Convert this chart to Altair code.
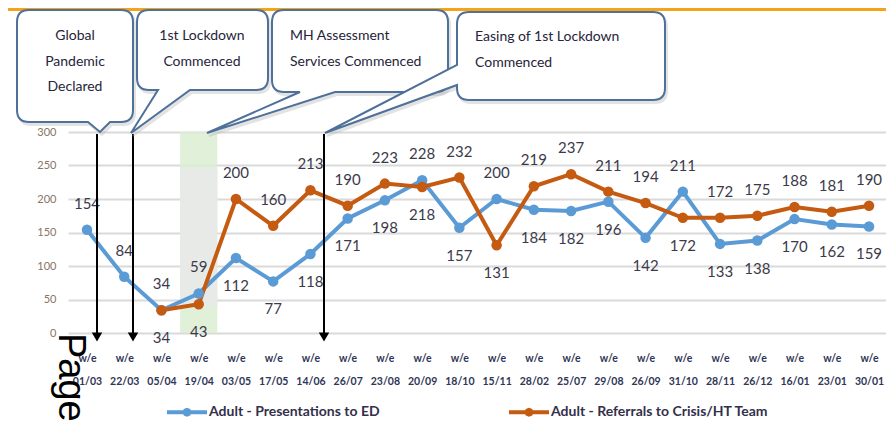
import json
import altair as alt
import pandas as pd

# ---------------- data ----------------
dates = ["01/03", "22/03", "05/04", "19/04", "03/05", "17/05", "14/06", "26/07",
         "23/08", "20/09", "18/10", "15/11", "28/02", "25/07", "29/08", "26/09",
         "31/10", "28/11", "26/12", "16/01", "23/01", "30/01"]
presentations_ed = [154, 84, 34, 59, 112, 77, 118, 171, 198, 228, 157, 200,
                    184, 182, 196, 142, 211, 133, 138, 170, 162, 159]
referrals_crisis = [None, None, 34, 43, 200, 160, 213, 190, 223, 218, 232, 131,
                    219, 237, 211, 194, 172, 172, 175, 188, 181, 190]
series_names = ["Adult - Presentations to ED", "Adult - Referrals to Crisis/HT Team"]
series_colors = ["#5B9BD5", "#C55A11"]
y_ticks = [0, 50, 100, 150, 200, 250, 300]
highlight_week = "19/04"

rows = []
for i, d in enumerate(dates):
    a, b = presentations_ed[i], referrals_crisis[i]
    rows.append({"idx": i, "series": series_names[0], "value": a,
                 "pos": "above" if (b is None or a >= b) else "below"})
    if b is not None:
        rows.append({"idx": i, "series": series_names[1], "value": b,
                     "pos": "above" if b > a else "below"})
df = pd.DataFrame(rows)

# ---------------- styling ----------------
LABEL_FONT = "Lato"
TEXT_COL = "#34304a"
OUTLINE = "#4e7099"

x_scale = alt.Scale(domain=[-0.51, 21.456], nice=False, zero=False)
y_scale = alt.Scale(domain=[0, 300], nice=False, zero=True)
x_axis = alt.Axis(values=list(range(len(dates))),
                  labelExpr="['w/e', " + json.dumps(dates) + "[datum.value]]",
                  grid=False, domain=False, ticks=False, title=None,
                  labelPadding=20, labelFont=LABEL_FONT, labelFontSize=10.5,
                  labelFontWeight="bold", labelColor="#2f3656",
                  labelLineHeight=23, labelFlush=False, labelOverlap=False,
                  labelBound=False, labelBaseline="top", zindex=0)
y_axis = alt.Axis(values=y_ticks, grid=True, gridColor="#dadada", gridWidth=2,
                  domain=False, ticks=False, title=None, labelPadding=12,
                  labelFont=LABEL_FONT, labelFontSize=11, labelColor="#877565",
                  labelOverlap=False, zindex=0)


def X(**kw):
    return alt.X(scale=x_scale, axis=x_axis, **kw)


def Y(**kw):
    return alt.Y(scale=y_scale, axis=y_axis, **kw)


color_scale = alt.Scale(domain=series_names, range=series_colors)

legend_symbol = ("M-1,0L1,0M0.12,0L0.085,0.085L0,0.12L-0.085,0.085L-0.12,0"
                 "L-0.085,-0.085L0,-0.12L0.085,-0.085Z")

base = alt.Chart(df)

lines = base.mark_line(strokeWidth=4).encode(
    x=X(field="idx", type="quantitative"),
    y=Y(field="value", type="quantitative"),
    color=alt.Color("series:N", scale=color_scale,
                    legend=alt.Legend(orient="none", legendX=97, legendY=258,
                                      direction="horizontal", title=None,
                                      symbolType=legend_symbol, symbolSize=1600,
                                      symbolStrokeWidth=4, labelFont=LABEL_FONT,
                                      labelFontSize=14, labelFontWeight="bold",
                                      labelColor=TEXT_COL, labelLimit=0,
                                      columnPadding=121, labelOffset=0, padding=0)),
)
points = base.mark_point(filled=True, size=110, opacity=1).encode(
    x=X(field="idx", type="quantitative"),
    y=Y(field="value", type="quantitative"),
    color=alt.Color("series:N", scale=color_scale, legend=None),
)
labels_above = base.transform_filter("datum.pos == 'above'").mark_text(
    dy=-26, fontSize=15, font=LABEL_FONT, color="#3b3a4a"
).encode(x=X(field="idx", type="quantitative"),
         y=Y(field="value", type="quantitative"), text="value:Q")
labels_below = base.transform_filter("datum.pos == 'below'").mark_text(
    dy=28, fontSize=15, font=LABEL_FONT, color="#3b3a4a"
).encode(x=X(field="idx", type="quantitative"),
         y=Y(field="value", type="quantitative"), text="value:Q")

hl = dates.index(highlight_week)
one = pd.DataFrame({"k": [0]})
band_green = alt.Chart(one).mark_rect(color="#dcedd2", opacity=0.85).encode(
    x=X(datum=hl - 0.5), x2=alt.X2(datum=hl + 0.5),
    y=Y(datum=0), y2=alt.Y2(datum=300))
band_gray = alt.Chart(one).mark_rect(color="#e9e9e9", opacity=0.85).encode(
    x=X(datum=hl - 0.5), x2=alt.X2(datum=hl + 0.5),
    y=Y(datum=40), y2=alt.Y2(datum=245))

# ---------------- annotations (pixel positions relative to plot origin) ----------------
OX, OY = 68, 132  # plot origin on page

top_bar = alt.Chart(one).mark_rect(color="#F5A31A").encode(
    x=alt.value(-60), x2=alt.value(818), y=alt.value(-124), y2=alt.value(-121))


def bubble(w, h, r, bottom_tail=None, left_tail=None):
    p = [f"M{r},0", f"H{w - r}", f"Q{w},0 {w},{r}", f"V{h - r}", f"Q{w},{h} {w - r},{h}"]
    if bottom_tail:
        br, (tx, ty), bl = bottom_tail
        p += [f"H{br}", f"L{tx},{ty}", f"L{bl},{h}"]
    p += [f"H{r}", f"Q0,{h} 0,{h - r}"]
    if left_tail:
        yl, (tx, ty), yh = left_tail
        p += [f"V{yl}", f"L{tx},{ty}", f"L0,{yh}"]
    p += [f"V{r}", f"Q0,0 {r},0", "Z"]
    return " ".join(p)


boxes = [
    (17, 10, bubble(116, 112, 12, bottom_tail=(93, (83, 122), 71))),
    (137, 10, bubble(131, 80, 12, bottom_tail=(53, (-6, 123), 21))),
    (272, 10, bubble(176, 82, 12, bottom_tail=(63, (-65, 123), 28))),
    (457, 12, bubble(208, 88, 12, left_tail=(73, (-132, 121), 53))),
]
box_layers = []
for bx, by, path in boxes:
    box_layers.append(alt.Chart(one).mark_point(
        shape=path, size=4, filled=True, fill="#b0b0b0", stroke="#b0b0b0",
        strokeWidth=2, opacity=0.35).encode(
        x=alt.value(bx - OX + 2), y=alt.value(by - OY + 3)))
for bx, by, path in boxes:
    box_layers.append(alt.Chart(one).mark_point(
        shape=path, size=4, filled=True, fill="white", stroke=OUTLINE,
        strokeWidth=2, opacity=1).encode(
        x=alt.value(bx - OX), y=alt.value(by - OY)))

callout_texts = [
    ("Global\nPandemic\nDeclared", 75, 29, "center"),
    ("1st Lockdown\nCommenced", 202, 29, "center"),
    ("MH Assessment\nServices Commenced", 290, 29, "left"),
    ("Easing of 1st Lockdown\nCommenced", 475, 30, "left"),
]
text_layers = [
    alt.Chart(one).mark_text(text=t, lineBreak="\n", align=al, baseline="top",
                             font=LABEL_FONT, fontSize=14, lineHeight=25.5,
                             color="#26243a").encode(
        x=alt.value(tx - OX), y=alt.value(ty - OY))
    for t, tx, ty, al in callout_texts
]

arrow_x = [97, 133, 324]
arrow_layers = []
for ax in arrow_x:
    arrow_layers.append(alt.Chart(one).mark_rule(color="black", strokeWidth=2).encode(
        x=alt.value(ax - OX), y=alt.value(134 - OY), y2=alt.value(336 - OY)))
    arrow_layers.append(alt.Chart(one).mark_point(
        shape="triangle-down", filled=True, color="black", size=110, opacity=1).encode(
        x=alt.value(ax - OX), y=alt.value(337 - OY)))

page_text = alt.Chart(one).mark_text(
    text="Page", angle=90, align="left", baseline="alphabetic",
    font="Liberation Sans", fontSize=38, color="black").encode(
    x=alt.value(59 - OX), y=alt.value(333 - OY))

chart = alt.layer(
    top_bar, band_green, band_gray, lines, points, labels_above, labels_below,
    *arrow_layers, *box_layers, *text_layers, page_text
).properties(
    width=818, height=201,
    autosize=alt.AutoSizeParams(type="none"),
    padding={"left": 60, "top": 124, "right": 0, "bottom": 90},
).configure_view(stroke=None)

chart.save("out.html", embed_options={"renderer": "svg", "actions": False})
